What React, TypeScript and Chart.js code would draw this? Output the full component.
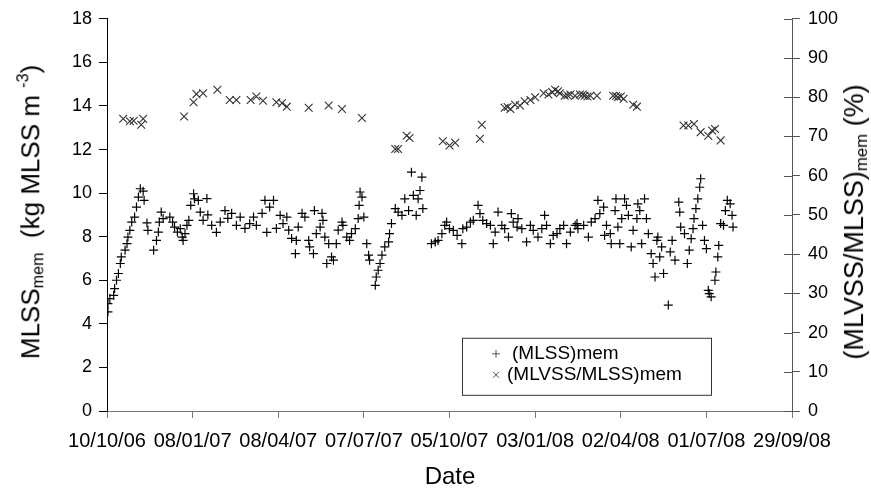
import React, { useEffect, useRef } from 'react';
import { Chart, registerables } from 'chart.js';

Chart.register(...registerables);

const tickLabels = ['10/10/06', '08/01/07', '08/04/07', '07/07/07', '05/10/07', '03/01/08', '02/04/08', '01/07/08', '29/09/08'];

// days since 10/10/06
const mlssDays = [1, 1, 3, 7, 8, 10, 12, 14, 15, 19, 21, 22, 24, 26, 29, 31, 33, 35, 38, 39, 42, 43, 49, 52, 54, 55, 57, 59, 66, 69, 71, 74, 77, 79, 80, 82, 84, 86, 88, 91, 92, 96, 98, 101, 105, 106, 110, 115, 119, 124, 127, 131, 136, 140, 145, 150, 154, 157, 163, 166, 168, 171, 175, 178, 182, 185, 189, 191, 194, 198, 199, 201, 205, 208, 212, 213, 217, 218, 220, 224, 226, 227, 229, 231, 233, 236, 238, 241, 243, 247, 248, 252, 255, 257, 261, 264, 265, 266, 268, 270, 273, 275, 276, 282, 283, 285, 287, 289, 292, 296, 297, 299, 303, 306, 310, 313, 317, 320, 322, 325, 327, 329, 331, 332, 341, 345, 348, 352, 355, 357, 360, 364, 368, 373, 374, 378, 382, 385, 390, 392, 395, 399, 403, 406, 408, 411, 415, 418, 422, 425, 427, 431, 432, 436, 441, 445, 448, 453, 457, 460, 462, 466, 469, 473, 476, 480, 483, 487, 492, 494, 495, 501, 506, 509, 513, 516, 518, 522, 523, 525, 529, 530, 534, 535, 537, 539, 541, 544, 546, 548, 551, 553, 557, 558, 560, 562, 565, 567, 569, 572, 574, 576, 578, 579, 581, 583, 585, 590, 592, 594, 597, 601, 602, 603, 607, 610, 612, 614, 616, 617, 619, 621, 623, 624, 626, 628, 630, 632, 633, 635, 639, 640, 642, 643, 645, 648, 650, 652, 655, 657, 658];
const mlssValues = [4.55, 4.93, 5.16, 5.31, 5.62, 6.0, 6.31, 6.77, 7.07, 7.38, 7.68, 7.98, 8.29, 8.67, 8.9, 9.36, 9.82, 10.2, 10.09, 9.67, 8.63, 8.29, 7.38, 7.83, 8.21, 8.67, 9.13, 8.83, 8.9, 8.67, 8.44, 8.21, 8.37, 7.98, 7.83, 8.14, 8.52, 8.75, 9.44, 9.97, 9.74, 9.67, 9.13, 8.75, 9.75, 9.0, 8.52, 8.2, 8.67, 9.2, 8.84, 9.07, 8.52, 8.9, 8.38, 8.6, 8.9, 8.52, 9.07, 9.67, 8.2, 9.36, 9.67, 8.38, 8.98, 8.6, 8.9, 8.3, 7.92, 7.22, 7.83, 8.44, 9.07, 8.9, 7.83, 7.53, 7.22, 9.2, 8.14, 8.44, 9.07, 8.75, 7.98, 6.77, 7.68, 7.07, 6.92, 7.68, 8.3, 8.67, 8.52, 7.98, 7.83, 8.14, 8.37, 8.83, 9.44, 10.05, 9.82, 8.9, 7.68, 7.15, 6.92, 5.77, 6.15, 6.46, 6.77, 7.15, 7.53, 7.76, 8.14, 8.6, 9.29, 9.13, 8.98, 9.74, 9.2, 10.96, 9.9, 8.98, 9.74, 10.12, 10.73, 9.29, 7.68, 7.76, 7.83, 8.14, 8.52, 8.67, 8.37, 8.29, 8.06, 7.68, 8.37, 8.44, 8.67, 8.75, 9.44, 9.06, 8.75, 8.6, 8.52, 7.68, 8.21, 9.13, 8.52, 8.37, 7.98, 9.06, 8.67, 8.44, 8.83, 8.37, 7.76, 8.52, 8.29, 7.98, 8.37, 8.98, 8.52, 7.68, 8.06, 8.14, 8.37, 8.52, 7.68, 8.21, 8.52, 8.6, 8.37, 8.52, 7.98, 8.67, 8.83, 9.67, 9.06, 9.36, 8.06, 8.52, 8.14, 7.68, 9.2, 9.74, 8.44, 7.68, 8.83, 9.74, 9.44, 8.98, 7.53, 8.29, 8.83, 9.51, 9.2, 7.68, 9.74, 8.83, 8.14, 7.22, 6.77, 6.15, 7.83, 7.98, 7.07, 7.53, 6.31, 4.86, 7.3, 7.83, 6.92, 9.59, 9.13, 8.44, 8.14, 6.77, 7.38, 7.91, 8.37, 8.83, 9.29, 9.74, 10.27, 10.66, 8.52, 7.83, 7.45, 5.54, 5.39, 5.24, 6.0, 6.38, 7.07, 7.6, 8.6, 8.52, 9.2, 9.67, 9.51, 8.98, 8.44];

const ratioDays = [17, 24, 28, 36, 38, 81, 91, 94, 101, 116, 129, 136, 151, 157, 164, 178, 184, 189, 212, 233, 247, 268, 303, 306, 315, 318, 353, 360, 366, 392, 394, 418, 421, 424, 429, 434, 439, 445, 450, 459, 464, 468, 471, 474, 476, 481, 484, 487, 492, 497, 500, 502, 505, 508, 515, 532, 535, 537, 540, 543, 553, 557, 606, 611, 617, 624, 632, 636, 639, 645];
const ratioValues = [74.5, 73.9, 74.0, 73.0, 74.5, 75.1, 78.7, 80.8, 81.0, 81.9, 79.3, 79.3, 79.3, 80.2, 79.1, 78.7, 78.5, 77.6, 77.3, 77.9, 77.0, 74.7, 66.8, 66.8, 70.2, 69.6, 68.8, 67.7, 68.4, 69.4, 73.0, 77.3, 77.5, 77.0, 78.1, 77.9, 79.0, 79.3, 80.0, 81.0, 80.7, 81.3, 81.9, 81.5, 81.0, 80.4, 80.5, 80.7, 80.4, 80.7, 80.7, 80.4, 80.2, 80.4, 80.4, 80.4, 80.3, 80.0, 80.2, 79.6, 78.1, 77.6, 72.8, 72.8, 73.2, 71.1, 70.2, 71.5, 71.9, 69.0];

const FONT = "'Liberation Sans', Arial, sans-serif";

const rightInnerTicks = {
  id: 'rightInnerTicks',
  afterDraw(chart: any) {
    const s = chart.scales.y1;
    const ctx = chart.ctx;
    ctx.save();
    ctx.strokeStyle = '#555';
    ctx.lineWidth = 1;
    s.ticks.forEach((t: any) => {
      const y = Math.round(s.getPixelForValue(t.value)) + 0.5;
      ctx.beginPath();
      ctx.moveTo(s.left - 8, y);
      ctx.lineTo(s.left, y);
      ctx.stroke();
    });
    ctx.restore();
  },
};

const legendBox = {
  id: 'legendBox',
  afterDraw(chart: any) {
    const ca = chart.chartArea;
    const ctx = chart.ctx;
    const x0 = ca.left + 355;
    const y0 = ca.top + 319;
    const w = 249;
    const h = 57;
    ctx.save();
    ctx.fillStyle = '#fff';
    ctx.fillRect(x0, y0, w, h);
    ctx.strokeStyle = '#333';
    ctx.lineWidth = 1;
    ctx.strokeRect(x0 + 0.5, y0 + 0.5, w, h);
    ctx.strokeStyle = '#555';
    ctx.beginPath();
    const px = x0 + 34, py1 = y0 + 16, py2 = y0 + 37;
    ctx.moveTo(px - 4, py1); ctx.lineTo(px + 4, py1);
    ctx.moveTo(px, py1 - 4); ctx.lineTo(px, py1 + 4);
    ctx.moveTo(px - 3, py2 - 3); ctx.lineTo(px + 3, py2 + 3);
    ctx.moveTo(px + 3, py2 - 3); ctx.lineTo(px - 3, py2 + 3);
    ctx.stroke();
    ctx.fillStyle = '#000';
    ctx.font = `19px ${FONT}`;
    ctx.textBaseline = 'middle';
    ctx.textAlign = 'left';
    ctx.fillText('(MLSS)mem', x0 + 50, py1);
    ctx.fillText('(MLVSS/MLSS)mem', x0 + 45, py2);
    ctx.restore();
  },
};

export default function App() {
  const ref = useRef<HTMLCanvasElement | null>(null);
  useEffect(() => {
    document.body.style.margin = '0';
    if (!ref.current) return;
    const chart = new Chart(ref.current, {
      type: 'scatter',
      data: {
        datasets: [
          {
            label: '(MLSS)mem',
            data: mlssDays.map((d, i) => ({ x: d, y: mlssValues[i] })),
            yAxisID: 'y',
            pointStyle: 'cross',
            pointRadius: 4.5,
            pointBorderWidth: 1.2,
            borderColor: '#000',
            backgroundColor: '#000',
          },
          {
            label: '(MLVSS/MLSS)mem',
            data: ratioDays.map((d, i) => ({ x: d, y: ratioValues[i] })),
            yAxisID: 'y1',
            pointStyle: 'crossRot',
            pointRadius: 5.5,
            pointBorderWidth: 1.1,
            borderColor: '#333',
            backgroundColor: '#333',
          },
        ],
      },
      options: {
        responsive: false,
        animation: false,
        layout: { padding: { top: 18, left: 0, right: 0, bottom: 0 } },
        plugins: { legend: { display: false }, tooltip: { enabled: false } },
        scales: {
          x: {
            type: 'linear',
            min: 0,
            max: 720,
            afterFit: (s: any) => { s.height = 82; },
            afterBuildTicks: (s: any) => {
              s.ticks = tickLabels.map((_, i) => ({ value: i * 90 }));
            },
            ticks: {
              autoSkip: false,
              maxRotation: 0,
              padding: 11,
              color: '#000',
              font: { family: FONT, size: 20 },
              callback: (v: any) => tickLabels[Math.round(Number(v) / 90)] ?? '',
            },
            grid: { drawOnChartArea: false, drawTicks: true, tickLength: 7, color: '#777' },
            border: { color: '#777', width: 1 },
          },
          y: {
            position: 'left',
            min: 0,
            max: 18,
            afterFit: (s: any) => { s.width = 107; },
            ticks: { stepSize: 2, padding: 7, color: '#000', font: { family: FONT, size: 18 } },
            grid: { drawOnChartArea: false, drawTicks: true, tickLength: 8, color: '#000' },
            border: { color: '#000', width: 1 },
          },
          y1: {
            position: 'right',
            min: 0,
            max: 100,
            afterFit: (s: any) => { s.width = 79; },
            ticks: { stepSize: 10, padding: 8, color: '#000', font: { family: FONT, size: 18 } },
            grid: { drawOnChartArea: false, drawTicks: true, tickLength: 8, color: '#555' },
            border: { color: '#555', width: 1 },
          },
        },
      },
      plugins: [rightInnerTicks, legendBox],
    });
    return () => chart.destroy();
  }, []);

  const base: React.CSSProperties = {
    position: 'absolute',
    whiteSpace: 'nowrap',
    fontFamily: FONT,
    color: '#000',
    transform: 'translate(-50%, -50%) rotate(-90deg)',
    lineHeight: 1,
  };
  const subStyle: React.CSSProperties = { fontSize: '0.62em', verticalAlign: '-0.25em' };
  const supStyle: React.CSSProperties = { fontSize: '0.62em', verticalAlign: '0.7em' };

  return (
    <div style={{ position: 'relative', width: 871, height: 493, background: '#fff', overflow: 'hidden' }}>
      <canvas ref={ref} width={871} height={493} style={{ display: 'block' }} />
      <div style={{ ...base, left: 30, top: 212, fontSize: 26 }}>
        MLSS<span style={subStyle}>mem</span>{'\u00a0\u00a0'}(kg MLSS m <span style={supStyle}>-3</span>)
      </div>
      <div style={{ ...base, left: 856, top: 222, fontSize: 27 }}>
        (MLVSS/MLSS)<span style={subStyle}>mem</span> (%)
      </div>
      <div style={{ position: 'absolute', left: 450, top: 476, transform: 'translate(-50%, -50%)', fontFamily: FONT, fontSize: 24, lineHeight: 1 }}>
        Date
      </div>
    </div>
  );
}
